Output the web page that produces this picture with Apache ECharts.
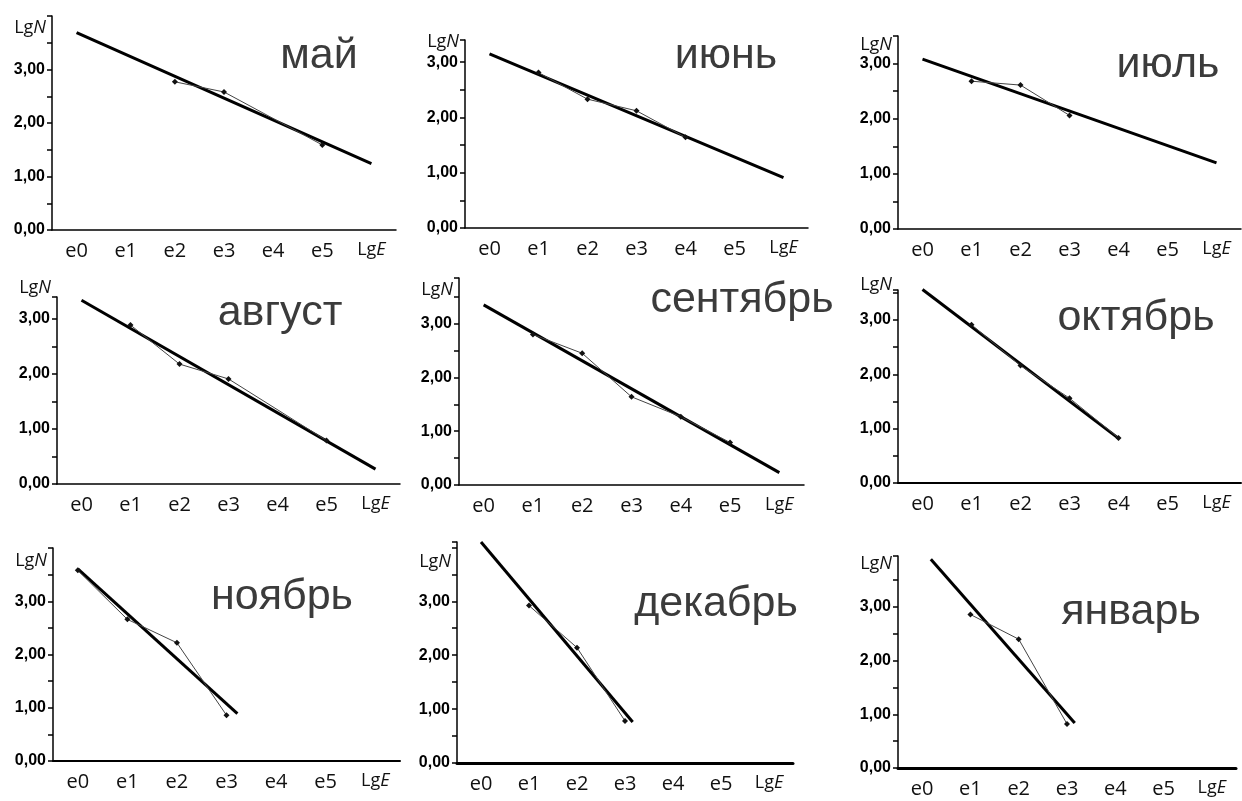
<!DOCTYPE html>
<html>
<head>
<meta charset="utf-8">
<script src="https://cdn.jsdelivr.net/npm/echarts@6/dist/echarts.min.js"></script>
<style>html,body{margin:0;background:#fff}#main{width:1242px;height:801px}</style>
</head>
<body>
<div id="main"></div>
<script>
var categories = ['e0', 'e1', 'e2', 'e3', 'e4', 'e5', 'LgE'];
var months = ['май', 'июнь', 'июль', 'август', 'сентябрь', 'октябрь', 'ноябрь', 'декабрь', 'январь'];

// точки LgN по классам, null - нет точки
var ptsMay = [null, null, 2.77, 2.58, null, 1.59, null];
var ptsJun = [null, 2.81, 2.33, 2.12, 1.64, null, null];
var ptsJul = [null, 2.68, 2.61, 2.06, null, null, null];
var ptsAug = [null, 2.89, 2.18, 1.91, null, 0.79, null];
var ptsSep = [null, 2.80, 2.45, 1.64, 1.27, 0.79, null];
var ptsOct = [null, 2.91, 2.16, 1.56, 0.83, null, null];
var ptsNov = [3.58, 2.66, 2.22, 0.86, null, null, null];
var ptsDec = [null, 2.92, 2.14, 0.78, null, null, null];
var ptsJan = [null, 2.86, 2.40, 0.82, null, null, null];

// концы линии регрессии: [позиция класса, LgN]
var fitMay = [[0, 3.69], [6, 1.24]];
var fitJun = [[0, 3.15], [6, 0.91]];
var fitJul = [[0, 3.08], [6, 1.20]];
var fitAug = [[0, 3.34], [6, 0.27]];
var fitSep = [[0, 3.35], [6, 0.23]];
var fitOct = [[0, 3.56], [4, 0.82]];
var fitNov = [[0, 3.61], [3.22, 0.89]];
var fitDec = [[0, 4.1], [3.16, 0.76]];
var fitJan = [[0.18, 3.89], [3.16, 0.84]];

var yMax = [4, 3.4, 3.5, 3.4, 3.85, 3.55, 4, 4.1, 3.95];

var pts = [ptsMay, ptsJun, ptsJul, ptsAug, ptsSep, ptsOct, ptsNov, ptsDec, ptsJan];
var fits = [fitMay, fitJun, fitJul, fitAug, fitSep, fitOct, fitNov, fitDec, fitJan];

// раскладка панелей [left, top, width, height]
var grids = [
    [52, 16, 344, 214], [465, 40, 343, 188], [898, 36, 343, 193],
    [57, 297, 343, 187], [459, 278, 345, 207], [898, 290, 343, 193],
    [53, 548, 347, 213], [457, 542, 336, 221], [898, 556, 338, 212]
];
var titlePos = [
    [319, 71], [726, 71], [1168, 80],
    [280, 328], [742, 315], [1136, 333],
    [282, 612], [716, 619], [1131, 627]
];
var nameShift = [12, 2, 9, -9, 12, -5, 13, 20, 8];
var xAxisWidth = [1.5, 1.5, 1.5, 1.5, 1.5, 2, 2, 3, 3];

var titleSize = 43;
var lgRich = {
    n: {fontSize: 18, fontFamily: 'Open Sans', color: '#111'},
    i: {fontSize: 18, fontFamily: 'Open Sans', fontStyle: 'italic', color: '#111'}
};

var myChart = echarts.init(document.getElementById('main'));

var option = {
    animation: false,
    backgroundColor: '#fff',
    title: [],
    grid: [],
    xAxis: [],
    yAxis: [],
    series: []
};

for (var i = 0; i < 9; i++) {
    var g = grids[i];
    option.grid.push({left: g[0], top: g[1], width: g[2], height: g[3]});

    option.title.push({
        text: months[i],
        left: titlePos[i][0],
        top: titlePos[i][1] - titleSize * 0.85,
        textAlign: 'center',
        padding: 0,
        textStyle: {fontSize: titleSize, fontWeight: 'normal', color: '#3b3b3b', fontFamily: 'Liberation Sans'}
    });

    option.xAxis.push({
        type: 'category',
        gridIndex: i,
        data: categories,
        boundaryGap: true,
        axisLine: {lineStyle: {color: '#000', width: xAxisWidth[i]}},
        axisTick: {length: 5, lineStyle: {color: '#000', width: 1.2}},
        axisLabel: {
            interval: 0,
            margin: 11,
            color: '#111',
            fontSize: 20,
            fontFamily: 'Open Sans',
            formatter: function (v) {
                return v === 'LgE' ? '{n|Lg}{i|E}' : v;
            },
            rich: lgRich
        }
    });
    option.xAxis.push({
        type: 'value',
        gridIndex: i,
        min: -0.5,
        max: 6.5,
        show: false
    });

    option.yAxis.push({
        type: 'value',
        gridIndex: i,
        min: 0,
        max: yMax[i],
        interval: 0.5,
        name: '{n|Lg}{i|N}',
        nameLocation: 'end',
        nameGap: -nameShift[i],
        nameTextStyle: {
            align: 'right',
            verticalAlign: 'middle',
            padding: [0, 6, 0, 0],
            rich: lgRich
        },
        axisLine: {show: true, onZero: false, lineStyle: {color: '#000', width: 1.5}},
        axisTick: {show: true, length: 5, lineStyle: {color: '#000', width: 1.5}},
        splitLine: {show: false},
        axisLabel: {
            margin: 7,
            color: '#000',
            fontSize: 16,
            fontWeight: 'bold',
            fontFamily: 'Liberation Sans',
            formatter: function (v) {
                if (v % 1 === 0 && v <= 3) {
                    return v.toFixed(2).replace('.', ',');
                }
                return '';
            }
        }
    });

    option.series.push({
        type: 'line',
        xAxisIndex: i * 2 + 1,
        yAxisIndex: i,
        data: fits[i],
        symbol: 'none',
        clip: false,
        lineStyle: {color: '#000', width: 3}
    });
    option.series.push({
        type: 'line',
        xAxisIndex: i * 2,
        yAxisIndex: i,
        data: pts[i],
        connectNulls: true,
        symbol: 'diamond',
        symbolSize: 6,
        clip: false,
        lineStyle: {color: '#444', width: 1},
        itemStyle: {color: '#111'}
    });
}

myChart.setOption(option);

window.onresize = function () {
    myChart.resize();
};
</script>
</body>
</html>
